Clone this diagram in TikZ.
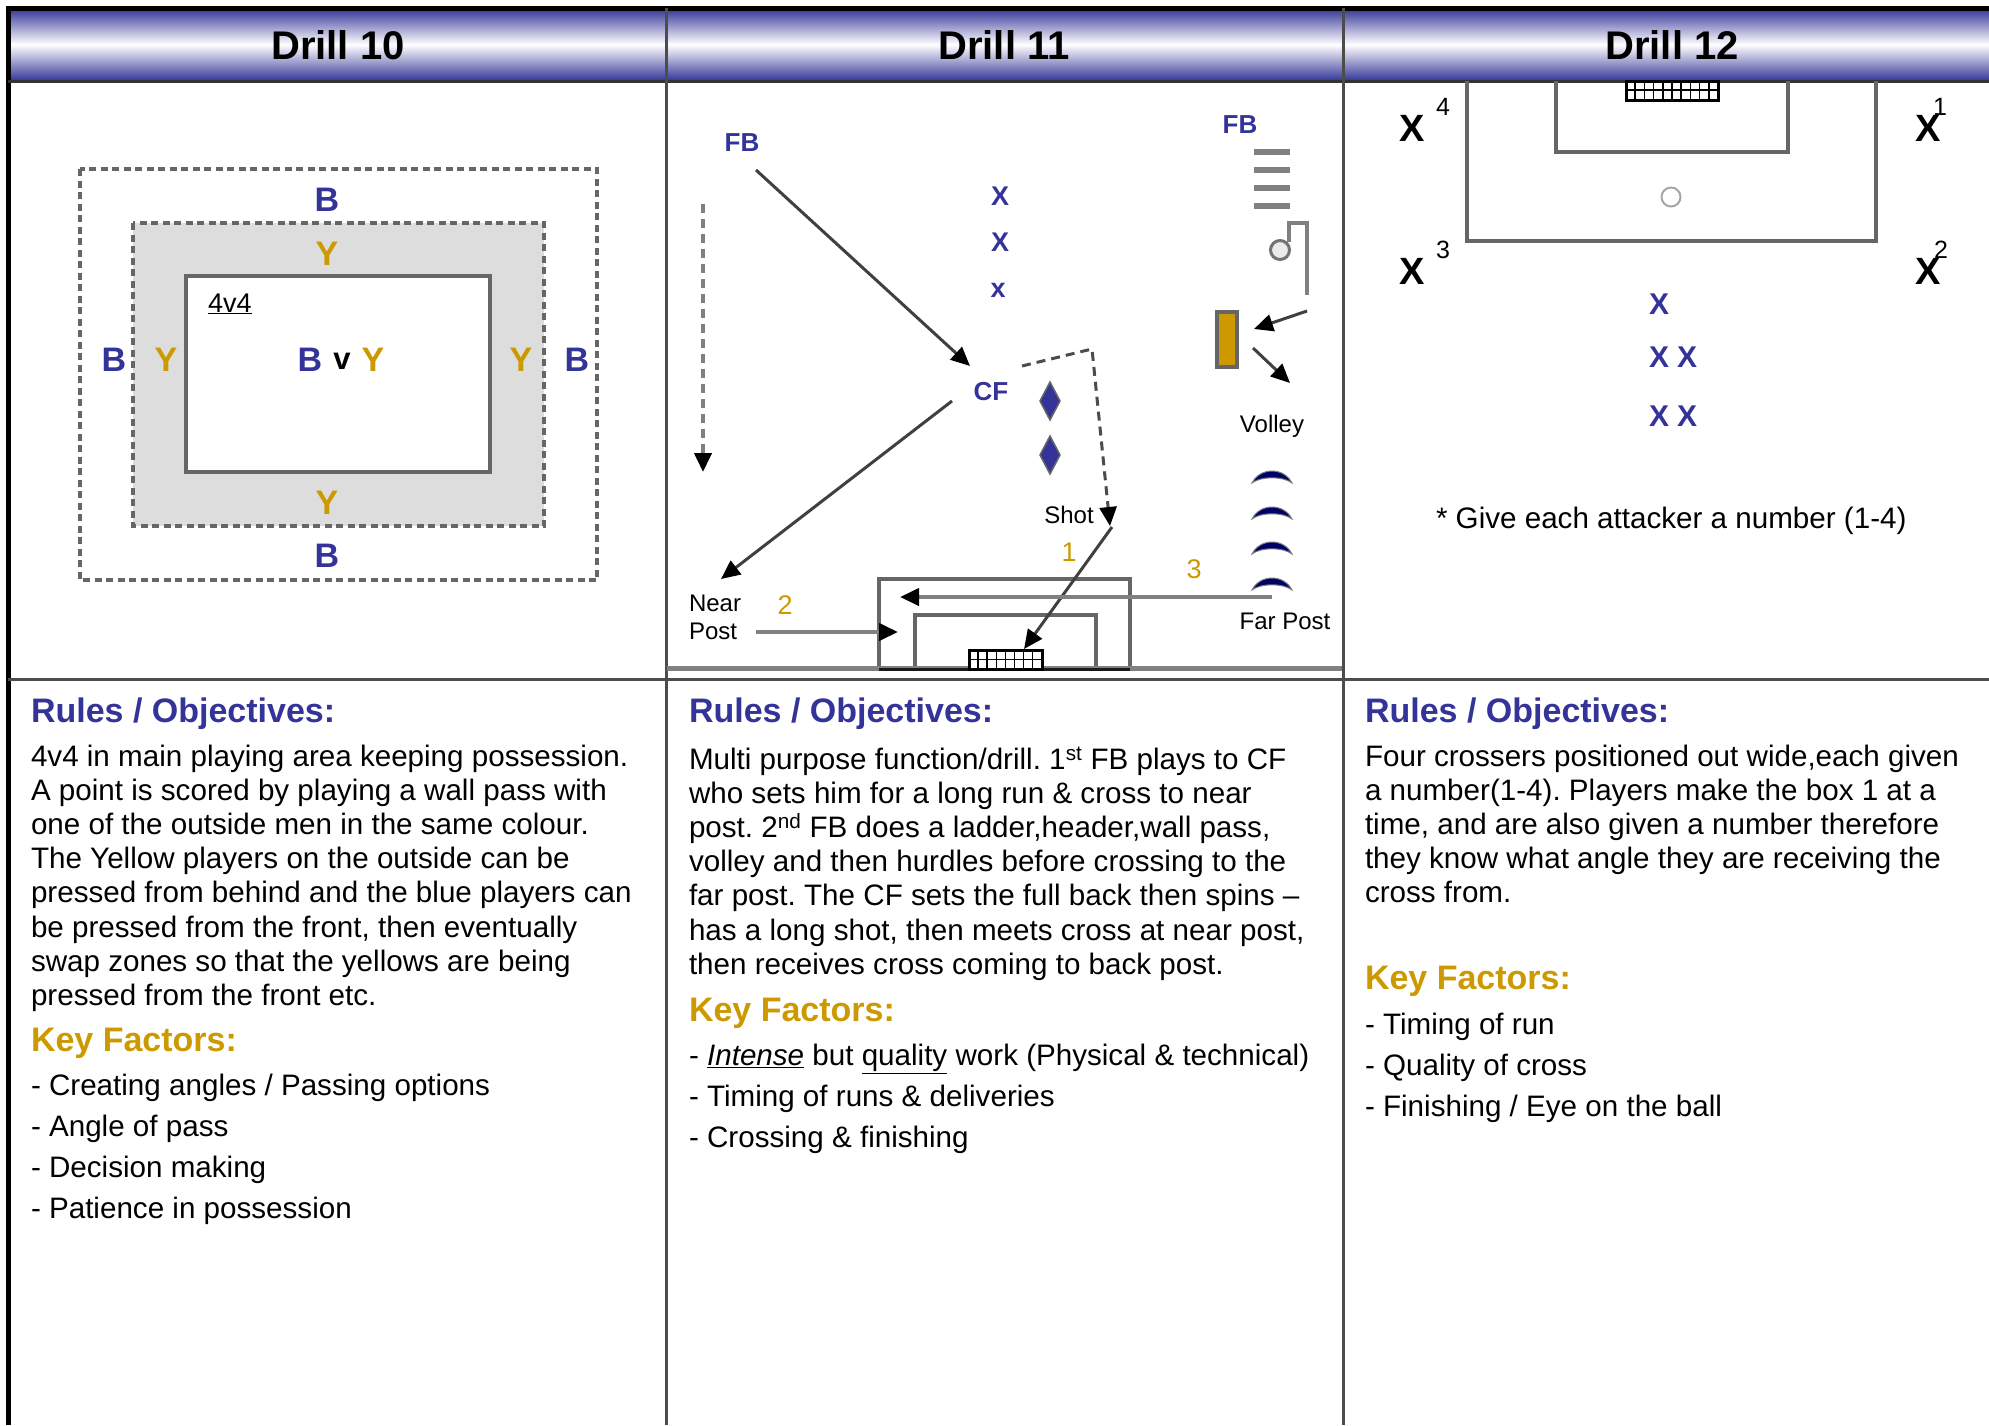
\documentclass[tikz,border=0pt]{standalone}
\usepackage{fontspec}
\setmainfont{Liberation Sans}
\usetikzlibrary{positioning,arrows.meta}
\definecolor{drillblue}{HTML}{333399}
\definecolor{drillgold}{HTML}{CC9900}
\definecolor{linegray}{HTML}{808080}
\definecolor{zonegray}{HTML}{DDDDDD}
\definecolor{conenavy}{HTML}{000066}
\newcommand{\fsz}[1]{\fontsize{#1}{#1}\selectfont}
\tikzset{node distance=46pt, % gap between the blue players
  every node/.style={inner sep=0pt,outer sep=0pt},
  >={Triangle[length=19pt,width=17pt,black]},
  tablerule/.style={draw=black!70,line width=3pt},
  boxline/.style={draw=black!60,line width=3.5pt},
  zone/.style={draw=black!60,line width=3.5pt,dash pattern=on 7pt off 4.5pt},
  run/.style={draw=black!75,line width=3pt,->},
  passline/.style={draw=linegray,line width=4pt,->},
  dashrun/.style={draw=black!70,line width=3pt,dash pattern=on 9pt off 6pt,->},
  barline/.style={draw=linegray,line width=5.5pt},
  title/.style={font=\bfseries\fsz{40}},
  head/.style={font=\bfseries\fsz{34},anchor=north west},
  rulestext/.style={font=\frenchspacing\fontsize{29.6}{34.2}\selectfont,align=left,anchor=north west},
  factors/.style={font=\frenchspacing\fontsize{29.6}{41}\selectfont,align=left,anchor=north west},
  teamB/.style={font=\bfseries\fsz{34},text=drillblue},
  teamY/.style={font=\bfseries\fsz{34},text=drillgold},
  bluex/.style={font=\bfseries\fsz{27},text=drillblue},
  crosser/.style={font=\bfseries\fsz{38}},
  tag/.style={font=\fsz{24}},
  ordinal/.style={font=\fsz{27},text=drillgold},
  crossnum/.style={font=\fsz{25}}}
\begin{document}
\begin{tikzpicture}[x=1pt,y=-1pt]
    \useasboundingbox (0,0) rectangle (1989,1425);
    % header band
    \shade[top color=drillblue,bottom color=drillblue,middle color=white] (8,8) rectangle (1989,81);
    \draw[black,line width=5pt] (8,1425) -- (8,8) -- (1989,8);
    \draw[black!80,line width=3pt] (8,81) -- (1989,81);
    \draw[tablerule] (8,679) -- (1989,679);
    \draw[tablerule] (666,8) -- (666,1425);
    \draw[tablerule] (1343,8) -- (1343,1425);
    \node[title] (d10) at (338,45) {Drill 10};
    \node[title] (d11) at (1004,45) {Drill 11};
    \node[title] (d12) at (1672,45) {Drill 12};

    % drill 10
    \draw[zone] (80,169) rectangle (597,580);
    \draw[zone,fill=zonegray] (133,223) rectangle (544,526);
    \draw[boxline,fill=white] (186,276) rectangle (490,472);
    \node[teamB] (bTop) at (327,200) {B};
    \node[teamY] (yTop) at (327,254) {Y};
    \node[font=\fsz{27}] (small) at (230,304) {\underline{4v4}};
    \node[teamB] (bLeft) at (114,360) {B};
    \node[teamY] (yLeft) at (166,360) {Y};
    \node[teamB] (bMid) at (310,360) {B};
    \node[font=\bfseries\fsz{31}] (vs) at (342,361) {v};
    \node[teamY] (yMid) at (373,360) {Y};
    \node[teamY] (yRight) at (521,360) {Y};
    \node[teamB] (bRight) at (577,360) {B};
    \node[teamY] (yLow) at (327,503) {Y};
    \node[teamB] (bLow) at (327,556) {B};

    % drill 11
    \node[font=\bfseries\fsz{26},text=drillblue] (fbA) at (742,143) {FB};
    \node[font=\bfseries\fsz{26},text=drillblue] (fbB) at (1240,125) {FB};
    \node[font=\bfseries\fsz{26},text=drillblue] (cf) at (991,392) {CF};
    \node[bluex] (xA) at (1000,196) {X};
    \node[bluex] (xB) at (1000,242) {X};
    \node[bluex] (xC) at (998,290) {x};
    \node[tag,anchor=west,align=left,font=\fontsize{24}{28}\selectfont] (near) at (689,617) {Near\\Post};
    \node[tag] (shot) at (1069,515) {Shot};
    \node[tag] (volley) at (1272,426) {Volley};
    \node[tag] (far) at (1285,621) {Far Post};
    \node[ordinal] (one) at (1069,552) {1};
    \node[ordinal] (two) at (785,605) {2};
    \node[ordinal] (three) at (1194,569) {3};
    \fill[drillblue,draw=black!60,line width=1.5pt] (1050,382) -- (1060,401) -- (1050,420) -- (1040,401) -- cycle;
    \fill[drillblue,draw=black!60,line width=1.5pt] (1050,436) -- (1060,455) -- (1050,474) -- (1040,455) -- cycle;
    \draw[boxline] (879,579) rectangle (1130,669);
    \draw[boxline] (915,615) rectangle (1096,669);
    \draw[draw=linegray,line width=5pt] (667,668) -- (1342,668);
    \draw[black!90,line width=3pt] (879,669) -- (1130,669);
    \draw[black,line width=3pt,fill=white] (969,650) rectangle (1042,669);
    \foreach \i in {1,...,7} \draw[black,line width=1.5pt] (969+9.1*\i,650) -- (969+9.1*\i,669);
    \draw[black,line width=1.5pt] (969,659.5) -- (1042,659.5);
    \coordinate (fbAout) at (756,170);
    \coordinate (cfIn) at (970,366);
    \coordinate (cfOut) at (952,401);
    \coordinate (nearIn) at (721,579);
    \coordinate (runTop) at (703,204);
    \coordinate (runEnd) at (703,472);
    \coordinate (spinA) at (1022,366);
    \coordinate (spinB) at (1092,349);
    \coordinate (spinC) at (1110,526);
    \coordinate (shotOut) at (1112,527);
    \coordinate (goalIn) at (1024,649);
    \coordinate (nearOut) at (756,632);
    \coordinate (nearEnd) at (898,632);
    \coordinate (farOut) at (1272,597);
    \coordinate (farEnd) at (900,597);
    \draw[run] (fbAout) -- (cfIn);
    \draw[run] (cfOut) -- (nearIn);
    \draw[dashrun,draw=linegray,line width=4pt] (runTop) -- (runEnd);
    \draw[dashrun] (spinA) -- (spinB) -- (spinC);
    \draw[run] (shotOut) -- (goalIn);
    \draw[passline] (nearOut) -- (nearEnd);
    \draw[passline] (farOut) -- (farEnd);
    % ladder, hurdles, wall
    \foreach \y in {152,170,188,206} \draw[barline] (1254,\y) -- (1290,\y);
    \draw[barline,line width=4.5pt] (1289,242) -- (1289,223) -- (1307,223) -- (1307,295);
    \draw[draw=black!55,line width=3pt,fill=black!8] (1280,250) circle (9.5);
    \draw[draw=black!60,line width=4pt,fill=drillgold] (1217,312) rectangle (1237,367);
    \coordinate (wallOut) at (1307,311);
    \coordinate (wallIn) at (1254,329);
    \coordinate (volOut) at (1253,348);
    \coordinate (volIn) at (1290,383);
    \draw[run] (wallOut) -- (wallIn);
    \draw[run] (volOut) -- (volIn);
    \foreach \y in {477,513,548,584}
      \draw[fill=conenavy,draw=black!50,line width=1pt] (1252,\y+6) .. controls (1260,\y-10) and (1284,\y-10) .. (1292,\y+6) .. controls (1283,\y-1) and (1261,\y-1) .. cycle;

    % drill 12
    \draw[boxline] (1467,81) -- (1467,241) -- (1876,241) -- (1876,81);
    \draw[boxline] (1556,81) -- (1556,152) -- (1788,152) -- (1788,81);
    \draw[black,line width=3pt,fill=white] (1626,81) rectangle (1718,100);
    \foreach \i in {1,...,9} \draw[black,line width=1.5pt] (1626+9.2*\i,81) -- (1626+9.2*\i,100);
    \draw[black,line width=1.5pt] (1626,90) -- (1718,90);
    \draw[draw=black!35,line width=2pt] (1671,197) circle (9.5);
    \node[crosser] (crossD) at (1412,128) {X};
    \node[crosser] (crossA) at (1928,128) {X};
    \node[crosser] (crossC) at (1412,271) {X};
    \node[crosser] (crossB) at (1928,271) {X};
    \node[crossnum] (numD) at (1443,107) {4};
    \node[crossnum] (numA) at (1940,107) {1};
    \node[crossnum] (numC) at (1443,250) {3};
    \node[crossnum] (numB) at (1941,250) {2};
    \node[bluex,font=\bfseries\fsz{30}] (attA) at (1659,304) {X};
    \node[bluex,font=\bfseries\fsz{30},below of=attA,node distance=53pt] (attB) {X};
    \node[bluex,font=\bfseries\fsz{30},right of=attB,node distance=28pt] (attC) {X};
    \node[bluex,font=\bfseries\fsz{30},below of=attB,node distance=59pt] (attD) {X};
    \node[bluex,font=\bfseries\fsz{30},right of=attD,node distance=28pt] (attE) {X};
    \node[font=\fsz{29.6},anchor=west] (note) at (1436,521) {* Give each attacker a number (1-4)};

    % text columns
    \node[head,text=drillblue] (rulesA) at (31,698) {Rules / Objectives:};
    \node[rulestext,below=15pt of rulesA.south west,anchor=north west] (textA) {4v4 in main playing area keeping possession.\\
      A point is scored by playing a wall pass with\\
      one of the outside men in the same colour.\\
      The Yellow players on the outside can be\\
      pressed from behind and the blue players can\\
      be pressed from the front, then eventually\\
      swap zones so that the yellows are being\\
      pressed from the front etc.};
    \node[head,text=drillgold,below=16.4pt of textA.south west,anchor=north west] (keyA) {Key Factors:};
    \node[factors,below=16pt of keyA.south west,anchor=north west] (listA) {- Creating angles / Passing options\\
      - Angle of pass\\
      - Decision making\\
      - Patience in possession};

    \node[head,text=drillblue] (rulesB) at (689,698) {Rules / Objectives:};
    \node[rulestext,below=17pt of rulesB.south west,anchor=north west] (textB) {Multi purpose function/drill. 1\textsuperscript{st} FB plays to CF\\
      who sets him for a long run \& cross to near\\
      post. 2\textsuperscript{nd} FB does a ladder,header,wall pass,\\
      volley and then hurdles before crossing to the\\
      far post. The CF sets the full back then spins –\\
      has a long shot, then meets cross at near post,\\
      then receives cross coming to back post.};
    \node[head,text=drillgold,below=18pt of textB.south west,anchor=north west] (keyB) {Key Factors:};
    \node[factors,below=15pt of keyB.south west,anchor=north west] (listB) {- \underline{\textit{Intense}} but \underline{quality} work (Physical \& technical)\\
      - Timing of runs \& deliveries\\
      - Crossing \& finishing};

    \node[head,text=drillblue] (rulesC) at (1365,698) {Rules / Objectives:};
    \node[rulestext,below=15pt of rulesC.south west,anchor=north west] (textC) {Four crossers positioned out wide,each given\\
      a number(1-4). Players make the box 1 at a\\
      time, and are also given a number therefore\\
      they know what angle they are receiving the\\
      cross from.};
    \node[head,text=drillgold,below=63.3pt of textC.south west,anchor=north west] (keyC) {Key Factors:};
    \node[factors,below=16pt of keyC.south west,anchor=north west] (listC) {- Timing of run\\
      - Quality of cross\\
      - Finishing / Eye on the ball};
  \end{tikzpicture}
\end{document}
